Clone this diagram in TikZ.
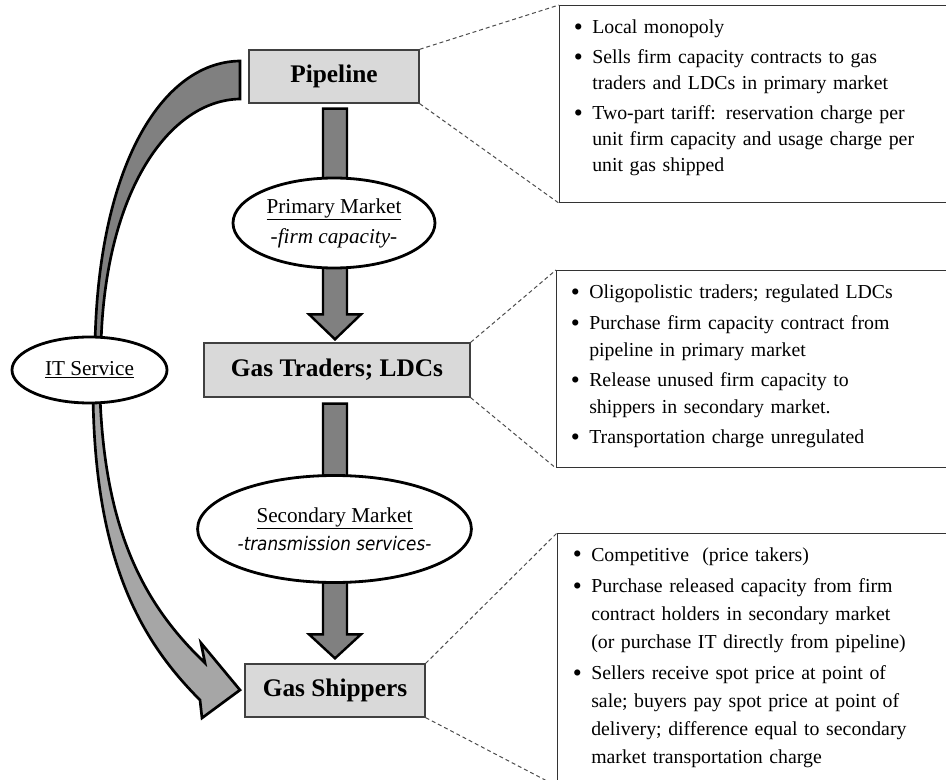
\documentclass[tikz,border=0pt]{standalone}
\usepackage{fontspec}
\setmainfont{Liberation Serif}
\newfontfamily\condsans{DejaVu Sans Condensed}
\usepackage{enumitem}
\usetikzlibrary{shapes.geometric,calc}
\definecolor{boxgray}{HTML}{D9D9D9}
\definecolor{arrgray}{HTML}{808080}
\definecolor{lightarr}{HTML}{A6A6A6}
\newcommand{\bigbul}{\raisebox{-0.1em}{\scalebox{1.3}{\textbullet}}}
\begin{document}
\begin{tikzpicture}[x=0.75pt,y=-0.75pt,
 entity/.style={draw=black!75, line width=1pt, fill=boxgray, font=\fontsize{19}{22}\selectfont\bfseries, inner sep=0pt},
 market/.style={ellipse, draw=black, line width=2.1pt, fill=white, inner sep=0pt, align=center},
 infobox/.style={draw=black!80, line width=0.9pt, fill=white, anchor=north west, inner sep=0pt},
 infotext/.style={anchor=base west, inner sep=0pt, text width=280pt, align=left},
 zoomline/.style={draw=black!70, dash pattern=on 3pt off 2.2pt, line width=0.75pt},
 flow/.style={draw=black, line width=1.8pt, fill=arrgray, line join=miter},
 curveflow/.style={draw=black, line width=2pt, line join=miter},
]
\useasboundingbox (0,0) rectangle (946,780);

% entity boxes
\node[entity, minimum width=127.5pt, minimum height=39.75pt] (pipe) at (334,76.5) {Pipeline};
\node[entity, minimum width=199.5pt, minimum height=40.5pt] (traders) at (337,370) {Gas Traders; LDCs};
\node[entity, minimum width=135pt, minimum height=39.75pt] (shippers) at (335,690.5) {Gas Shippers};

% info boxes
\node[infobox, minimum width=293pt, minimum height=147.75pt] (box1) at (559,5) {};
\node[infobox, minimum width=293pt, minimum height=147.75pt] (box2) at (556,270) {};
\node[infobox, minimum width=293pt, minimum height=189pt] (box3) at (557,533) {};

% dashed zoom lines
\draw[zoomline] (pipe.north east) -- (box1.north west);
\draw[zoomline] (pipe.south east) -- (box1.south west);
\draw[zoomline] (traders.north east) -- (box2.north west);
\draw[zoomline] (traders.south east) -- (box2.south west);
\draw[zoomline] (shippers.north east) -- (box3.north west);
\draw[zoomline] (shippers.south east) -- (box3.south west);

% vertical flow arrows
\coordinate (a1) at ($(pipe.south)+(1,5)$);
\coordinate (a2) at ($(traders.north)+(0,-3)$);
\draw[flow] ($(a1)+(-12,0)$) -- ($(a1|-a2)+(-12,-25)$) -- ($(a1|-a2)+(-26,-25)$) -- (a1|-a2)
  -- ($(a1|-a2)+(26,-25)$) -- ($(a1|-a2)+(12,-25)$) -- ($(a1)+(12,0)$) -- cycle;
\coordinate (b1) at ($(traders.south)+(-2,6)$);
\coordinate (b2) at ($(shippers.north)+(0,-5)$);
\draw[flow] ($(b1)+(-12,0)$) -- ($(b1|-b2)+(-12,-24)$) -- ($(b1|-b2)+(-26,-24)$) -- (b1|-b2)
  -- ($(b1|-b2)+(26,-24)$) -- ($(b1|-b2)+(12,-24)$) -- ($(b1)+(12,0)$) -- cycle;

% curved IT service arrow
\draw[curveflow, fill=arrgray] (240,61) .. controls (160,62) and (98,170) .. (95,345)
  -- (101,345) .. controls (105,190) and (170,100) .. (240,99) -- cycle;
\draw[curveflow, fill=lightarr] (93,395) .. controls (95,560) and (140,640) .. (200,700)
  -- (202,718) -- (240,690) -- (201,643) -- (205,663)
  .. controls (150,610) and (105,540) .. (100,395) -- cycle;

% market ellipses
\node[market, minimum width=151.5pt, minimum height=67.5pt, font=\fontsize{15.9}{22.5}\selectfont] (prim) at (334,223)
  {\underline{Primary Market}\\ \textit{-firm capacity-}};
\node[market, minimum width=171.75pt, minimum height=80.25pt, font=\fontsize{15.9}{21}\selectfont] (sec) at (334.5,529)
  {\underline{Secondary Market}\\ {\condsans\itshape\fontsize{14}{21}\selectfont -transmission services-}};
\node[market, minimum width=116.25pt, minimum height=49.5pt, font=\fontsize{15.9}{20}\selectfont] (it) at (89.5,370)
  {\underline{IT Service}};

% info texts
\node[infotext, font=\fontsize{14.85}{19.5}\selectfont] (t1) at (574,8) {%
\begin{itemize}[leftmargin=13.5pt,labelsep=7pt,label=\bigbul,itemsep=3pt,parsep=0pt,topsep=0pt,partopsep=0pt]
\item Local monopoly
\item Sells firm capacity contracts to gas\\ traders and LDCs in primary market
\item Two-part tariff: reservation charge per\\ unit firm capacity and usage charge per\\ unit gas shipped
\end{itemize}};
\node[infotext, font=\fontsize{14.85}{20.25}\selectfont] (t2) at (571,272) {%
\begin{itemize}[leftmargin=13.5pt,labelsep=7pt,label=\bigbul,itemsep=2.5pt,parsep=0pt,topsep=0pt,partopsep=0pt]
\item Oligopolistic traders; regulated LDCs
\item Purchase firm capacity contract from\\ pipeline in primary market
\item Release unused firm capacity to\\ shippers in secondary market.
\item Transportation charge unregulated
\end{itemize}};
\node[infotext, font=\fontsize{14.85}{21}\selectfont] (t3) at (573,533) {%
\begin{itemize}[leftmargin=13.5pt,labelsep=7pt,label=\bigbul,itemsep=2.5pt,parsep=0pt,topsep=0pt,partopsep=0pt]
\item Competitive~ (price takers)
\item Purchase released capacity from firm\\ contract holders in secondary market\\ (or purchase IT directly from pipeline)
\item Sellers receive spot price at point of\\ sale; buyers pay spot price at point of\\ delivery; difference equal to secondary\\ market transportation charge
\end{itemize}};
\end{tikzpicture}
\end{document}
